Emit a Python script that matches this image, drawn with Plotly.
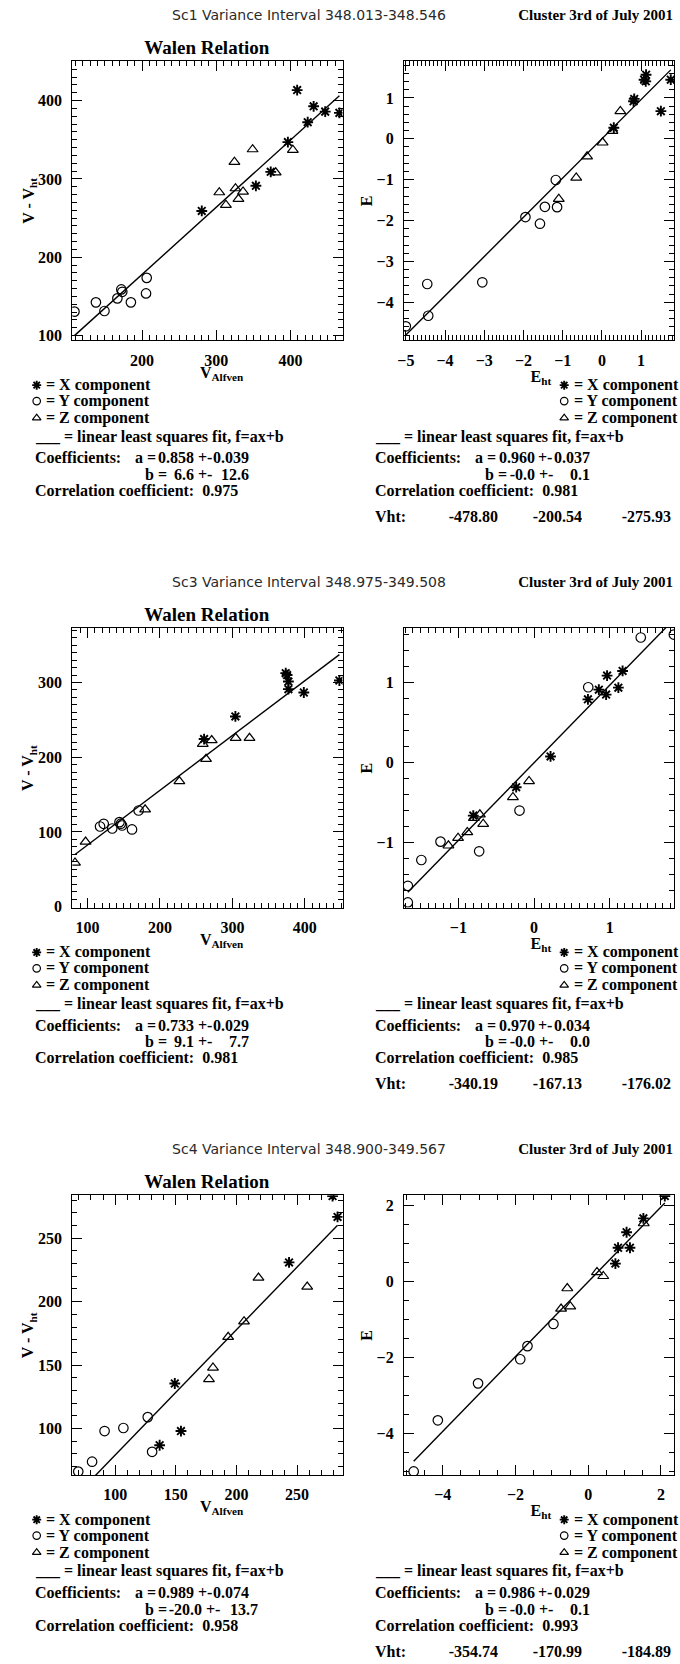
import plotly.graph_objects as go

W, H = 680, 1664
BLOCK = 570

# ---------------- data ----------------
# Sc1 Walen relation: V_Alfven vs V - V_ht
sc1_w_x_va = [280.4, 408.9, 431.1, 423.1, 446.7, 465.8, 396.4, 373.3, 353.3]
sc1_w_x_dv = [259.2, 413.5, 392.8, 372.5, 386.0, 384.4, 347.1, 309.1, 291.3]
sc1_w_y_va = [108.9, 137.8, 149.3, 166.7, 172.0, 173.3, 184.9, 205.3, 206.2]
sc1_w_y_dv = [130.7, 142.5, 131.5, 147.6, 159.0, 156.0, 142.5, 153.9, 173.8]
sc1_w_z_va = [304.0, 312.9, 324.4, 325.8, 329.8, 336.0, 348.9, 380.0, 403.1]
sc1_w_z_dv = [282.9, 266.8, 321.8, 288.0, 274.4, 283.7, 337.8, 308.2, 337.0]
# Sc1 E vs E_ht
sc1_e_x_eht = [0.303, 0.807, 0.824, 1.076, 1.126, 1.118, 1.504, 1.756]
sc1_e_x_e = [0.271, 0.919, 0.976, 1.445, 1.567, 1.405, 0.676, 1.445]
sc1_e_y_eht = [-5.0, -4.454, -4.429, -3.05, -1.95, -1.58, -1.454, -1.176, -1.143]
sc1_e_y_e = [-4.587, -3.551, -4.328, -3.51, -1.915, -2.077, -1.664, -1.008, -1.672]
sc1_e_z_eht = [-1.10, -0.655, -0.378, 0.017, 0.269, 0.47]
sc1_e_z_e = [-1.47, -0.951, -0.433, -0.093, 0.19, 0.676]

# Sc3 Walen relation
sc3_w_x_va = [260.9, 304.1, 373.6, 375.5, 377.3, 377.3, 398.6, 447.7]
sc3_w_x_dv = [224.3, 254.6, 312.5, 310.0, 301.3, 291.1, 286.6, 302.7]
sc3_w_y_va = [117.3, 122.3, 134.1, 144.1, 146.0, 147.7, 161.4, 170.5]
sc3_w_y_dv = [107.3, 110.9, 104.6, 113.1, 111.0, 108.6, 103.3, 128.7]
sc3_w_z_va = [82.7, 97.3, 179.5, 226.8, 259.1, 263.6, 271.4, 304.5, 323.6]
sc3_w_z_dv = [58.8, 86.8, 130.0, 167.8, 217.7, 197.6, 222.6, 225.7, 225.7]
# Sc3 E vs E_ht
sc3_e_x_eht = [-0.803, -0.236, 0.218, 0.712, 0.856, 0.965, 0.952, 1.114, 1.17]
sc3_e_x_e = [-0.66, -0.305, 0.079, 0.793, 0.914, 1.09, 0.852, 0.939, 1.148]
sc3_e_y_eht = [-1.668, -1.668, -1.489, -1.236, -0.725, -0.192, 0.716, 1.41, 1.847]
sc3_e_y_e = [-1.745, -1.537, -1.215, -0.985, -1.106, -0.597, 0.944, 1.566, 1.603]
sc3_e_z_eht = [-1.131, -1.004, -0.882, -0.795, -0.716, -0.672, -0.279, -0.066]
sc3_e_z_e = [-1.035, -0.939, -0.868, -0.689, -0.647, -0.764, -0.43, -0.23]

# Sc4 Walen relation
sc4_w_x_va = [136.7, 149.2, 154.3, 243.4, 279.3, 283.4]
sc4_w_x_dv = [86.7, 135.4, 97.9, 231.0, 283.3, 266.9]
sc4_w_y_va = [69.6, 81.0, 91.3, 106.8, 126.9, 130.5]
sc4_w_y_dv = [65.9, 73.7, 97.9, 100.3, 108.9, 81.5]
sc4_w_z_va = [177.4, 180.7, 193.2, 206.3, 218.2, 258.4]
sc4_w_z_dv = [138.8, 147.9, 172.1, 184.4, 218.8, 211.7]
# Sc4 E vs E_ht
sc4_e_x_eht = [0.747, 0.82, 1.054, 1.147, 1.516, 2.106]
sc4_e_x_e = [0.478, 0.896, 1.304, 0.896, 1.67, 2.26]
sc4_e_y_eht = [-4.80, -4.136, -3.03, -1.87, -1.671, -0.957]
sc4_e_y_e = [-5.0, -3.652, -2.678, -2.043, -1.696, -1.113]
sc4_e_z_eht = [-0.747, -0.576, -0.494, 0.24, 0.413, 1.527]
sc4_e_z_e = [-0.713, -0.174, -0.652, 0.252, 0.148, 1.539]

# fit coefficients (a, b) per panel: Sc1 W, Sc1 E, Sc3 W, Sc3 E, Sc4 W, Sc4 E
fit_a = [0.858, 0.960, 0.733, 0.970, 0.989, 0.986]
fit_b = [6.6, -0.0, 9.1, -0.0, -20.0, -0.0]

# text values
spacecraft = ["Sc1", "Sc3", "Sc4"]
intervals = ["348.013-348.546", "348.975-349.508", "348.900-349.567"]
coef_a_txt = [("0.858", "0.039"), ("0.960", "0.037"), ("0.733", "0.029"),
              ("0.970", "0.034"), ("0.989", "0.074"), ("0.986", "0.029")]
coef_b_txt = [("6.6", "12.6"), ("-0.0", "0.1"), ("9.1", "7.7"),
              ("-0.0", "0.0"), ("-20.0", "13.7"), ("-0.0", "0.1")]
corr_txt = ["0.975", "0.981", "0.981", "0.985", "0.958", "0.993"]
vht_txt = [("-478.80", "-200.54", "-275.93"),
           ("-340.19", "-167.13", "-176.02"),
           ("-354.74", "-170.99", "-184.89")]

# axis ranges / ticks per panel
x_ranges = [[106, 470], [-5.05, 1.84], [79, 452], [-1.72, 1.85], [64.7, 287.5], [-5.07, 2.36]]
y_ranges = [[94, 451], [-4.93, 1.91], [-1.3, 373], [-1.81, 1.685], [63.3, 284], [-5.09, 2.28]]
x_dtick = [100, 1, 100, 1, 50, 2]
x_minor = [10, 0.1, 10, 0.1, 10, 0.5]
y_dtick = [100, 1, 100, 1, 50, 2]
y_minor = [10, 0.2, 10, 0.2, 10, 0.5]

panels = [
    (sc1_w_x_va, sc1_w_x_dv, sc1_w_y_va, sc1_w_y_dv, sc1_w_z_va, sc1_w_z_dv),
    (sc1_e_x_eht, sc1_e_x_e, sc1_e_y_eht, sc1_e_y_e, sc1_e_z_eht, sc1_e_z_e),
    (sc3_w_x_va, sc3_w_x_dv, sc3_w_y_va, sc3_w_y_dv, sc3_w_z_va, sc3_w_z_dv),
    (sc3_e_x_eht, sc3_e_x_e, sc3_e_y_eht, sc3_e_y_e, sc3_e_z_eht, sc3_e_z_e),
    (sc4_w_x_va, sc4_w_x_dv, sc4_w_y_va, sc4_w_y_dv, sc4_w_z_va, sc4_w_z_dv),
    (sc4_e_x_eht, sc4_e_x_e, sc4_e_y_eht, sc4_e_y_e, sc4_e_z_eht, sc4_e_z_e),
]

# ---------------- layout helpers ----------------
SERIF = "Liberation Serif"
SANS = "DejaVu Sans"
PLOT_L = (66, 339)
PLOT_R = (401, 674)
PLOT_TOP, PLOT_BOT = 61, 342
FS = 16


def px(x):
    return x / W


def py(y):
    return 1 - y / H


CHW = {".": 0.25, "-": 0.333, "+": 0.57, " ": 0.25}


def tw(s, size=FS):
    return size * sum(CHW.get(c, 0.5) for c in s)


STAR = dict(symbol="asterisk-open", color="black", line=dict(color="black", width=1.9))
CIRC = dict(symbol="circle-open", color="black", line=dict(color="black", width=1.2))
TRI = dict(symbol="triangle-up-open", color="black", line=dict(color="black", width=1.2))

fig = go.Figure()
layout = dict(width=W, height=H, margin=dict(l=0, r=0, t=0, b=0),
              paper_bgcolor="white", plot_bgcolor="rgba(0,0,0,0)", showlegend=False)

for i, data in enumerate(panels):
    blk, side = divmod(i, 2)
    off = blk * BLOCK
    xl, xr = PLOT_L if side == 0 else PLOT_R
    xa = "xaxis" if i == 0 else f"xaxis{i+1}"
    ya = "yaxis" if i == 0 else f"yaxis{i+1}"
    xref = "x" if i == 0 else f"x{i+1}"
    yref = "y" if i == 0 else f"y{i+1}"
    common = dict(showline=True, linecolor="black", linewidth=1, mirror="allticks",
                  ticks="inside", ticklen=10, tickwidth=1, tickcolor="black",
                  showgrid=False, zeroline=False,
                  tickfont=dict(family=SERIF, size=16, color="black", weight="bold"))
    layout[xa] = dict(common, domain=[px(xl), px(xr)], range=x_ranges[i], anchor=yref,
                      tick0=0, dtick=x_dtick[i], ticklabelstandoff=5,
                      minor=dict(ticks="inside", ticklen=5, dtick=x_minor[i], tick0=0,
                                 tickcolor="black", tickwidth=1, showgrid=False))
    layout[ya] = dict(common, domain=[py(PLOT_BOT + off), py(PLOT_TOP + off)],
                      range=y_ranges[i], anchor=xref, tick0=0, dtick=y_dtick[i],
                      ticklabelstandoff=6,
                      minor=dict(ticks="inside", ticklen=5, dtick=y_minor[i], tick0=0,
                                 tickcolor="black", tickwidth=1, showgrid=False))
    xs_x, ys_x, xs_y, ys_y, xs_z, ys_z = data
    fig.add_trace(go.Scatter(x=xs_x, y=ys_x, mode="markers", xaxis=xref, yaxis=yref,
                             marker=dict(STAR, size=9)))
    fig.add_trace(go.Scatter(x=xs_y, y=ys_y, mode="markers", xaxis=xref, yaxis=yref,
                             marker=dict(CIRC, size=9.5)))
    fig.add_trace(go.Scatter(x=xs_z, y=ys_z, mode="markers", xaxis=xref, yaxis=yref,
                             marker=dict(TRI, size=9.5)))
    allx = list(xs_x) + list(xs_y) + list(xs_z)
    lx = [min(allx), max(allx)]
    ly = [fit_a[i] * v + fit_b[i] for v in lx]
    fig.add_trace(go.Scatter(x=lx, y=ly, mode="lines", xaxis=xref, yaxis=yref,
                             line=dict(color="black", width=1.4)))

# page overlay axis (pixel coordinates) for the legend symbols
layout["xaxis7"] = dict(domain=[0, 1], range=[0, W], visible=False, fixedrange=True,
                        anchor="y7")
layout["yaxis7"] = dict(domain=[0, 1], range=[H, 0], visible=False, fixedrange=True,
                        anchor="x7")

ann = []


def text(x, y, s, size=FS, family=SERIF, bold=True, xanchor="left", angle=0,
         color="black", width=320):
    d = dict(x=px(x), y=py(y), xref="paper", yref="paper", text=s, showarrow=False,
             xanchor=xanchor, yanchor="middle", textangle=angle, borderpad=0, borderwidth=0,
             align=xanchor if xanchor in ("left", "right") else "center",
             font=dict(family=family, size=size, color=color,
                       weight="bold" if bold else "normal"))
    if angle == 0:
        d["width"] = width
    ann.append(d)


NB = "\u00a0"
ROWS = [387, 403, 420]
LEG_SYMS = [STAR, CIRC, TRI]
sym_x, sym_y, sym_k = [], [], []
for blk in range(3):
    off = blk * BLOCK
    text(305, 15 + off, f"{spacecraft[blk]} Variance Interval {intervals[blk]}", size=14,
         family=SANS, bold=False, xanchor="center", color="#2a2a2a", width=400)
    text(673, 15 + off, "Cluster 3rd of July 2001", size=15, xanchor="right", width=250)
    text(202.5, 47.5 + off, "Walen Relation", size=19, xanchor="center", width=250)
    text(22, 202 + off, "V - V<sub>ht</sub>", size=16, xanchor="center", angle=-90)
    text(363, 202 + off, "E", size=16, xanchor="center", angle=-90)
    text(217, 375 + off, "V<sub>Alfven</sub>", size=16, xanchor="center", width=70)
    text(540, 379 + off, "E<sub>ht</sub>", size=16, xanchor="center", width=36)
    labels = ["= X component", "= Y component", "= Z component"]
    for sx, tx in [(30, 39), (563, 573)]:
        for k, (r, lb) in enumerate(zip(ROWS, labels)):
            sym_x.append(sx)
            sym_y.append(r + off)
            sym_k.append(k)
            text(tx, r + off, lb, width=140)
    for side, dx in [(0, 0), (1, 344)]:
        i = blk * 2 + side
        text(28 + dx, 439 + off, "___ = linear least squares fit, f=ax+b", width=300)
        text(28 + dx, 460 + off, "Coefficients:", width=120)
        text(129 + dx, 460 + off, "a =", width=30)
        text(189 + dx, 460 + off, coef_a_txt[i][0], xanchor="right", width=60)
        text(193 + dx, 460 + off, "+-", width=20)
        text(245 + dx, 460 + off, coef_a_txt[i][1], xanchor="right", width=60)
        bshift = max(0.0, 139 + 25 + tw(coef_b_txt[i][0]) - 189)
        text(139 + dx, 477 + off, "b =", width=30)
        text(189 + dx + bshift, 477 + off, coef_b_txt[i][0], xanchor="right", width=60)
        text(193 + dx + bshift, 477 + off, "+-", width=20)
        text(245 + dx + bshift, 477 + off, coef_b_txt[i][1], xanchor="right", width=60)
        text(28 + dx, 493 + off, "Correlation coefficient:" + NB + NB + corr_txt[i], width=260)
    text(372, 519 + off, "Vht:", width=50)
    for xe, v in zip([496, 581, 671], vht_txt[blk]):
        text(xe, 519 + off, v, xanchor="right", width=80)

for k, mk in enumerate(LEG_SYMS):
    xs = [x for x, kk in zip(sym_x, sym_k) if kk == k]
    ys = [y for y, kk in zip(sym_y, sym_k) if kk == k]
    fig.add_trace(go.Scatter(x=xs, y=ys, mode="markers", xaxis="x7", yaxis="y7",
                             marker=dict(mk, size=7.5), cliponaxis=False, hoverinfo="skip"))

layout["annotations"] = ann
fig.update_layout(**layout)
fig.write_html("out.html", config={"displayModeBar": False},
               post_script="document.body.style.margin='0';document.body.style.overflow='hidden';")
